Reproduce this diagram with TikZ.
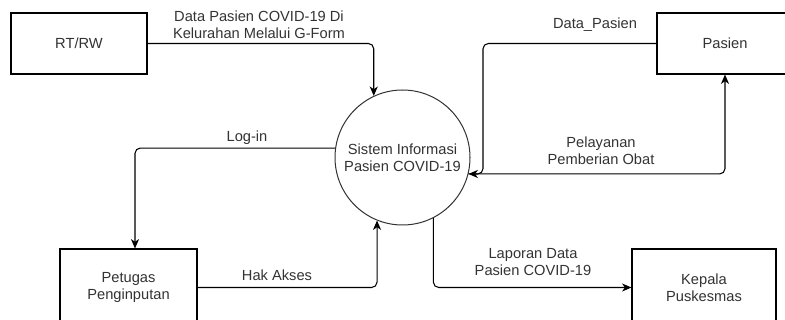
\documentclass[tikz,border=0pt]{standalone}
\usepackage{fontspec}
\setmainfont{Liberation Sans}
\usetikzlibrary{arrows.meta}
\definecolor{ink}{HTML}{333333}
\begin{document}
\begin{tikzpicture}[x=0.75pt,y=-0.75pt,
  every node/.style={font=\fontsize{11}{12.5}\selectfont, text=ink},
  entity/.style={draw=black, line width=0.8pt, fill=white, rectangle, inner sep=0pt, align=center},
  process/.style={draw=black!80, line width=0.75pt, fill=white, circle, inner sep=0pt, minimum size=101.25pt, align=center},
  flow/.style={draw=black, line width=0.8pt, rounded corners=4pt, -{Stealth[length=7pt,width=6pt,inset=2pt]}},
  lbl/.style={align=center, inner sep=0pt}]
\useasboundingbox (0,0) rectangle (785,320);
\clip (0,0) rectangle (785,320);

% external entities and the central process
\node[entity, minimum width=102pt, minimum height=45.75pt] (rt) at (79,43.5) {RT/RW};
\node[entity, minimum width=102pt, minimum height=45.75pt] (pas) at (725,43.5) {Pasien};
\node[entity, minimum width=102.75pt, minimum height=57.75pt] (pet) at (128.5,287.5) {Petugas\\Penginputan};
\node[entity, minimum width=108pt, minimum height=57.75pt] (kep) at (704,287.5) {Kepala\\Puskesmas};
\node[process] (sys) at (402.5,157.5) {Sistem Informasi\\Pasien COVID-19};

% data flows
\coordinate (bend) at (483,174);
\draw[flow] (rt.east) -| (sys.115);
\draw[flow] (sys.172) -| ([xshift=4.875pt]pet.north);
\draw[flow] (pet.east) -| (sys.248);
\draw[flow] (sys.297) |- (kep.west);
\draw[flow] (pas.west) -| (bend) -- (sys.-14);
\draw[flow] (sys.-14) -| (pas.south);

% flow labels
\node[lbl] (l1) at (259,25) {Data Pasien COVID-19 Di\\Kelurahan Melalui G-Form};
\node[lbl] (l2) at (247,138) {Log-in};
\node[lbl] (l3) at (595,25) {Data\_Pasien};
\node[lbl] (l4) at (601,150.5) {Pelayanan\\Pemberian Obat};
\node[lbl] (l5) at (277,275) {Hak Akses};
\node[lbl] (l6) at (533,262) {Laporan Data\\Pasien COVID-19};
\end{tikzpicture}
\end{document}
